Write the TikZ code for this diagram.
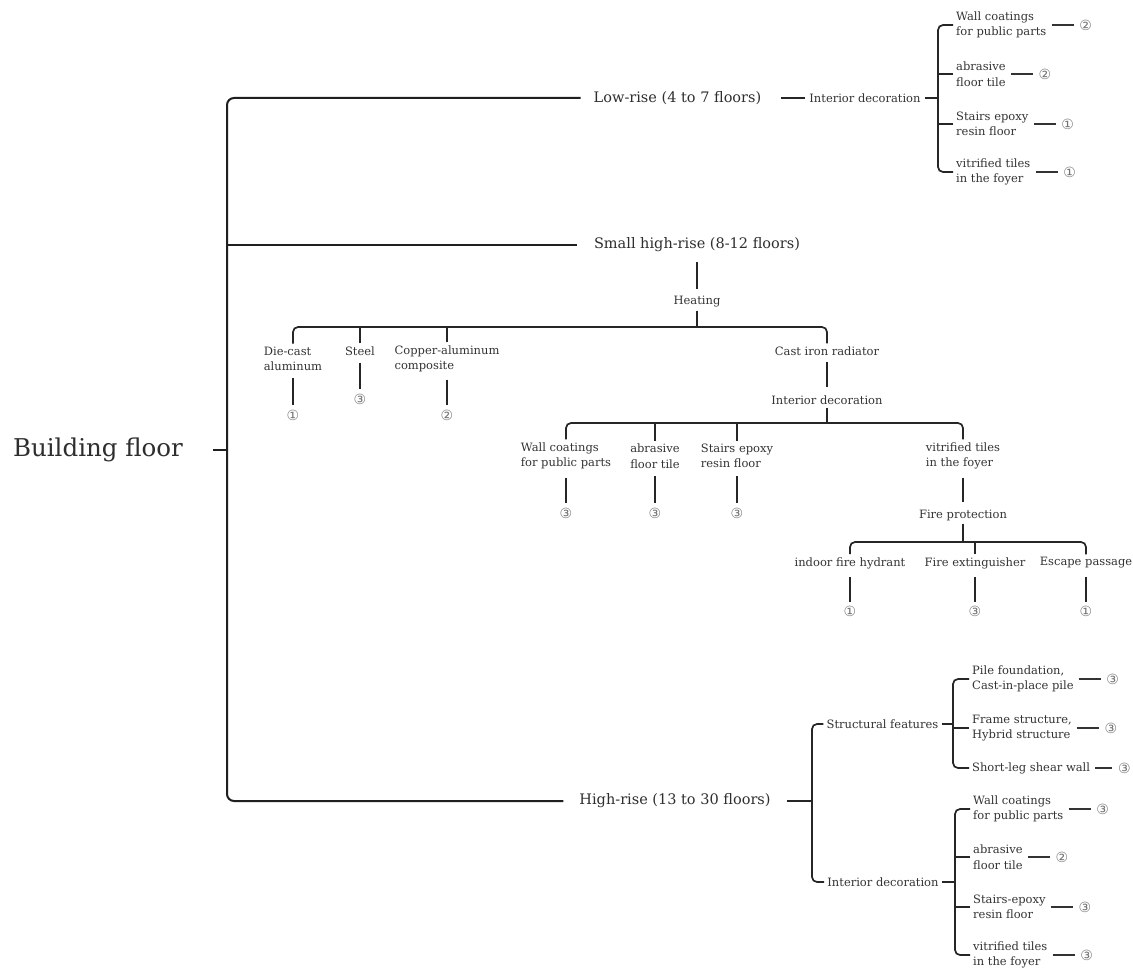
\documentclass[tikz,border=0pt]{standalone}
\usepackage{fontspec}
\setmainfont{DejaVu Serif}
\newfontfamily\numfont{DejaVu Sans}
\usetikzlibrary{positioning}
\begin{document}
\begin{tikzpicture}[x=1pt,y=-1pt,
  big/.style={font=\fontsize{14.5}{17}\selectfont,text=black!82,inner xsep=14pt,inner ysep=10pt},
  rootf/.style={font=\fontsize{24.5}{28}\selectfont,text=black!82,inner xsep=30pt},
  sm/.style={font=\fontsize{11.5}{15.5}\selectfont,text=black!80,align=left,inner sep=3pt},
  num/.style={font=\numfont\fontsize{14}{15}\selectfont,text=black!55,inner sep=0.5pt},
  ln/.style={line width=2pt,draw=black!88,rounded corners=7pt},
  br/.style={line width=1.7pt,draw=black!85,rounded corners=5pt},
  dsh/.style={line width=1.5pt,draw=black!80,shorten <=2pt,shorten >=5pt},
  vl/.style={line width=1.6pt,draw=black!85,shorten <=4pt,shorten >=4pt},
]
\fill[white] (0,0) rectangle (1133,971);
\useasboundingbox (0,0) rectangle (1133,971);

% root and spine
\node[rootf] (root) at (98,450) {Building floor};
\coordinate (sp) at (227,450);
\node[big,inner xsep=13pt] (low) at (677.5,98) {Low-rise (4 to 7 floors)};
\node[big,inner xsep=17pt] (small) at (697,245) {Small high-rise (8-12 floors)};
\node[big,inner xsep=16pt] (high) at (675,801) {High-rise (13 to 30 floors)};
\draw[ln] (low.west) -| (sp) |- (high.west);
\draw[ln] (small.west) -- (small.west -| sp);
\draw[ln] (root.east) -- (sp);

% ---------- Low-rise ----------
\node[sm,inner xsep=4pt] (lid) at (865,98) {Interior decoration};
\draw[br,shorten <=7pt] (low.east) -- (low.east -| lid.west);
\coordinate (lb) at (938,98);
\node[sm,anchor=west] (l1) at (953,25) {Wall coatings\\for public parts};
\node[sm,anchor=west] (l2) at (953,74) {abrasive\\floor tile};
\node[sm,anchor=west] (l3) at (953,124) {Stairs epoxy\\resin floor};
\node[sm,anchor=west] (l4) at (953,172) {vitrified tiles\\in the foyer};
\draw[br] (lid.east) -- (lid.east -| lb);
\draw[br] (l1.west) -| (lb) |- (l4.west);
\draw[br] (l2.west) -- (l2.west -| lb);
\draw[br] (l3.west) -- (l3.west -| lb);
\node[num,right=29pt of l1] (nl1) {②};
\node[num,right=29pt of l2] (nl2) {②};
\node[num,right=29pt of l3] (nl3) {①};
\node[num,right=29pt of l4] (nl4) {①};
\draw[dsh] (l1.east) -- (nl1.west);
\draw[dsh] (l2.east) -- (nl2.west);
\draw[dsh] (l3.east) -- (nl3.west);
\draw[dsh] (l4.east) -- (nl4.west);

% ---------- Small high-rise ----------
\node[sm] (heat) at (697,302) {Heating};
\draw[vl,shorten <=0pt] (small.south) -- (heat.north);
\coordinate (hb) at (697,327);
\draw[br] (heat.south) -- (hb);
\node[sm] (die) at (293,359) {Die-cast\\aluminum};
\node[sm] (steel) at (360,351) {Steel};
\node[sm] (cop) at (447,359) {Copper-aluminum\\composite};
\node[sm] (cast) at (827,351) {Cast iron radiator};
\draw[br] (die.north) |- (hb) -| (cast.north);
\draw[br] (steel.north) -- (steel.north |- hb);
\draw[br] (cop.north) -- (cop.north |- hb);
\node[num] (ndie) at (293,415) {①};
\node[num] (nsteel) at (360,399) {③};
\node[num] (ncop) at (447,415) {②};
\draw[vl] (die.south) -- (ndie.north);
\draw[vl] (steel.south) -- (nsteel.north);
\draw[vl] (cop.south) -- (ncop.north);

\node[sm] (cid) at (827,400) {Interior decoration};
\draw[vl,shorten <=3pt,shorten >=5pt] (cast.south) -- (cid.north);
\coordinate (cb) at (827,423);
\draw[br] (cid.south) -- (cb);
\node[sm] (cw) at (566,456) {Wall coatings\\for public parts};
\node[sm] (ca) at (655,456) {abrasive\\floor tile};
\node[sm] (cs) at (737,456) {Stairs epoxy\\resin floor};
\node[sm] (cv) at (963,456) {vitrified tiles\\in the foyer};
\draw[br] (cw.north) |- (cb) -| (cv.north);
\draw[br] (ca.north) -- (ca.north |- cb);
\draw[br] (cs.north) -- (cs.north |- cb);
\node[num] (ncw) at (566,513) {③};
\node[num] (nca) at (655,513) {③};
\node[num] (ncs) at (737,513) {③};
\draw[vl,shorten <=5pt] (cw.south) -- (ncw.north);
\draw[vl,shorten <=5pt] (ca.south) -- (nca.north);
\draw[vl,shorten <=5pt] (cs.south) -- (ncs.north);

\node[sm] (fp) at (963,515) {Fire protection};
\draw[vl,shorten <=5pt] (cv.south) -- (fp.north);
\coordinate (fb) at (963,542);
\draw[br] (fp.south) -- (fb);
\node[sm] (hyd) at (850,563) {indoor fire hydrant};
\node[sm] (ext) at (975,563) {Fire extinguisher};
\node[sm] (esc) at (1086,563) {Escape passage};
\draw[br] (hyd.north) |- (fb) -| (esc.north);
\draw[br] (ext.north) -- (ext.north |- fb);
\node[num] (nhyd) at (850,611) {①};
\node[num] (next) at (975,611) {③};
\node[num] (nesc) at (1086,611) {①};
\draw[vl,shorten <=5pt,shorten >=3pt] (hyd.south) -- (nhyd.north);
\draw[vl,shorten <=5pt,shorten >=3pt] (ext.south) -- (next.north);
\draw[vl,shorten <=5pt,shorten >=3pt] (esc.south) -- (nesc.north);

% ---------- High-rise ----------
\coordinate (hb2) at (812,801);
\node[sm] (sf) at (882.5,724) {Structural features};
\node[sm] (hid) at (883,882) {Interior decoration};
\draw[br] (high.east) -- (hb2);
\draw[br] (sf.west) -| (hb2) |- (hid.west);

\coordinate (sb) at (953,724);
\draw[br] (sf.east) -- (sf.east -| sb);
\node[sm,anchor=west] (p1) at (969,679) {Pile foundation,\\Cast-in-place pile};
\node[sm,anchor=west] (p2) at (969,728) {Frame structure,\\Hybrid structure};
\node[sm,anchor=west] (p3) at (969,768) {Short-leg shear wall};
\draw[br] (p1.west) -| (sb) |- (p3.west);
\draw[br] (p2.west) -- (p2.west -| sb);
\node[num,right=29pt of p1] (np1) {③};
\node[num,right=29pt of p2] (np2) {③};
\node[num,right=24pt of p3] (np3) {③};
\draw[dsh] (p1.east) -- (np1.west);
\draw[dsh] (p2.east) -- (np2.west);
\draw[dsh] (p3.east) -- (np3.west);

\coordinate (ib) at (955,882);
\draw[br] (hid.east) -- (hid.east -| ib);
\node[sm,anchor=west] (h1) at (970,809) {Wall coatings\\for public parts};
\node[sm,anchor=west] (h2) at (970,857) {abrasive\\floor tile};
\node[sm,anchor=west] (h3) at (970,907) {Stairs-epoxy\\resin floor};
\node[sm,anchor=west] (h4) at (970,955) {vitrified tiles\\in the foyer};
\draw[br] (h1.west) -| (ib) |- (h4.west);
\draw[br] (h2.west) -- (h2.west -| ib);
\draw[br] (h3.west) -- (h3.west -| ib);
\node[num,right=29pt of h1] (nh1) {③};
\node[num,right=29pt of h2] (nh2) {②};
\node[num,right=29pt of h3] (nh3) {③};
\node[num,right=29pt of h4] (nh4) {③};
\draw[dsh] (h1.east) -- (nh1.west);
\draw[dsh] (h2.east) -- (nh2.west);
\draw[dsh] (h3.east) -- (nh3.west);
\draw[dsh] (h4.east) -- (nh4.west);
\end{tikzpicture}
\end{document}
